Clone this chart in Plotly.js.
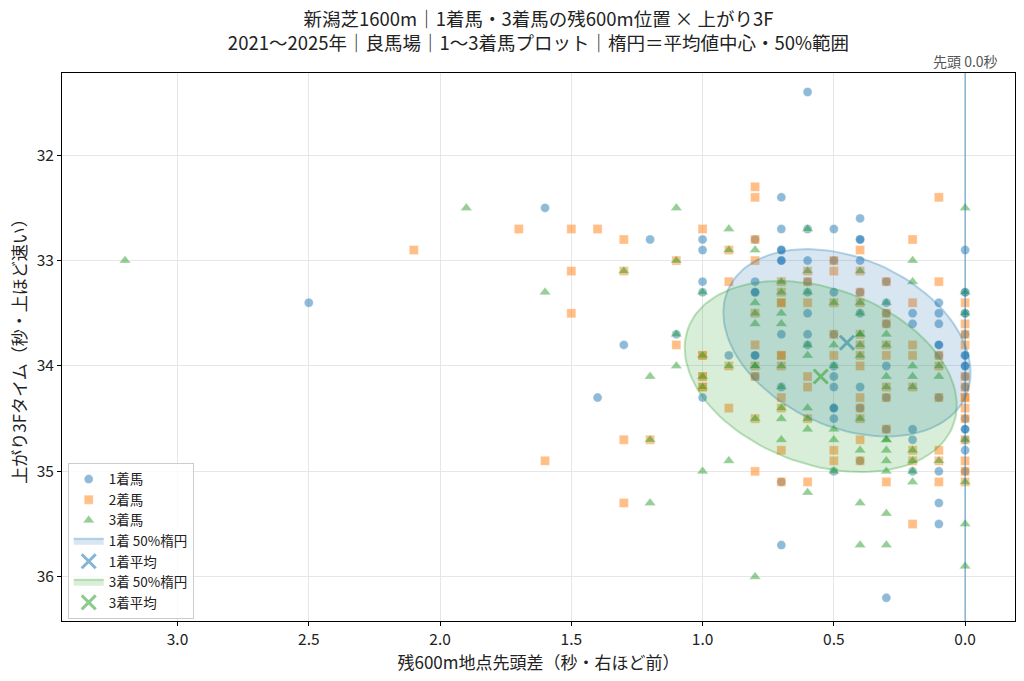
<!DOCTYPE html>
<html>
<head>
<meta charset="utf-8">
<script src="https://cdn.plot.ly/plotly-3.0.1.min.js"></script>
<style>
  html, body { margin: 0; padding: 0; background: #fff; }
  #chart { width: 1024px; height: 681px; }
</style>
</head>
<body>
<div id="chart"></div>
<script>
// 1着馬: 残600m先頭差（秒）と上がり3F（秒）
var lead1 = [0.6,0.7,0.4,0.7,0.6,0.5,1.6,1.2,1.0,0.8,0.4,0.4,1.0,0.7,0.7,0.0,0.7,0.7,0.6,0.5,
  0.4,1.0,0.8,0.6,0.3,1.0,0.8,0.8,0.6,0.5,0.4,0.0,0.0,2.5,0.3,0.1,0.6,0.4,0.3,0.2,
  0.1,0.0,0.0,0.3,0.2,0.1,1.1,0.7,0.6,0.5,0.0,1.3,0.6,0.1,0.1,0.9,0.8,0.8,0.1,0.0,
  0.0,0.5,0.3,0.0,0.0,0.8,0.5,0.0,0.7,0.5,0.4,0.0,1.4,1.0,0.3,0.1,0.5,0.5,0.4,0.5,
  0.0,0.2,0.0,0.0,0.3,0.2,0.0,0.0,0.4,0.5,0.2,0.1,0.0,0.7,0.1,0.1,0.7,0.3];
var f3_1 = [31.4,32.4,32.6,32.7,32.7,32.7,32.5,32.8,32.8,32.8,32.8,32.8,32.9,32.9,32.9,32.9,33.0,33.0,33.0,33.0,
  33.0,33.2,33.2,33.2,33.2,33.3,33.3,33.3,33.3,33.3,33.3,33.3,33.3,33.4,33.4,33.4,33.5,33.5,33.5,33.5,
  33.5,33.5,33.5,33.6,33.6,33.6,33.7,33.7,33.7,33.7,33.7,33.8,33.8,33.8,33.8,33.9,33.9,33.9,33.9,33.9,
  33.9,34.0,34.0,34.0,34.0,34.1,34.1,34.1,34.2,34.2,34.2,34.2,34.3,34.3,34.3,34.3,34.4,34.4,34.4,34.5,
  34.5,34.6,34.6,34.6,34.6,34.7,34.7,34.8,34.9,35.0,35.0,35.0,35.0,35.1,35.3,35.5,35.7,36.2];

// 2着馬
var lead2 = [0.8,0.8,0.1,1.7,1.5,1.4,1.0,1.3,0.8,0.2,2.1,0.9,0.4,1.1,0.8,0.5,1.5,1.3,0.6,0.5,
  0.4,0.9,0.7,0.6,0.3,0.1,0.7,0.4,0.7,0.7,0.6,0.5,0.4,0.2,0.0,1.5,0.8,0.3,0.3,0.0,
  0.5,0.4,0.0,1.1,0.8,0.4,0.3,0.2,0.0,1.0,1.0,0.7,0.7,0.5,0.4,0.3,0.2,0.1,0.9,0.8,
  0.7,0.4,0.1,1.0,1.0,0.8,0.6,0.0,1.0,1.0,0.6,0.3,0.2,0.0,0.7,0.4,0.3,0.1,0.0,0.0,
  0.9,0.7,0.4,0.0,0.8,0.6,0.4,0.0,0.3,1.3,1.2,0.4,0.0,0.7,0.5,0.2,0.1,1.6,0.5,0.4,
  0.2,0.1,0.0,0.8,0.0,0.7,0.6,0.3,0.1,0.0,1.3,0.2];
var f3_2 = [32.3,32.4,32.4,32.7,32.7,32.7,32.7,32.8,32.8,32.8,32.9,32.9,32.9,33.0,33.0,33.0,33.1,33.1,33.1,33.1,
  33.1,33.2,33.2,33.2,33.2,33.2,33.3,33.3,33.4,33.4,33.4,33.4,33.4,33.4,33.4,33.5,33.5,33.5,33.6,33.6,
  33.7,33.7,33.7,33.8,33.8,33.8,33.8,33.8,33.8,33.9,33.9,33.9,33.9,33.9,33.9,33.9,33.9,33.9,34.0,34.0,
  34.0,34.0,34.0,34.1,34.1,34.1,34.1,34.1,34.2,34.2,34.2,34.2,34.2,34.2,34.3,34.3,34.3,34.3,34.3,34.3,
  34.4,34.4,34.4,34.4,34.5,34.5,34.5,34.5,34.6,34.7,34.7,34.7,34.7,34.8,34.8,34.8,34.8,34.9,34.9,34.9,
  34.9,34.9,34.9,35.0,35.0,35.1,35.1,35.1,35.1,35.1,35.3,35.5];

// 3着馬
var lead3 = [1.9,1.1,0.0,0.9,0.6,0.9,0.8,3.2,1.1,0.2,1.3,0.6,0.4,0.7,0.2,1.6,1.0,0.7,0.6,0.0,
  0.8,0.5,0.4,0.3,0.8,0.7,0.4,0.0,0.8,0.7,1.1,0.4,0.4,0.3,0.6,0.5,0.4,0.3,1.0,0.6,
  0.4,1.1,0.9,0.8,0.8,0.7,0.5,0.2,0.1,1.2,1.0,0.3,0.2,0.1,1.0,0.7,0.3,0.2,0.7,0.6,
  0.8,0.7,0.6,0.4,0.6,0.5,1.2,0.7,0.5,0.3,0.3,0.0,0.4,0.3,0.2,0.9,0.3,0.2,0.1,1.0,
  0.5,0.3,0.2,0.2,0.0,0.6,1.2,0.4,0.3,0.0,0.4,0.3,0.8,0.0];
var f3_3 = [32.5,32.5,32.5,32.7,32.7,32.9,32.9,33.0,33.0,33.0,33.1,33.1,33.1,33.2,33.2,33.3,33.3,33.3,33.3,33.3,
  33.4,33.4,33.4,33.4,33.5,33.5,33.5,33.5,33.6,33.6,33.7,33.7,33.7,33.7,33.8,33.8,33.8,33.8,33.9,33.9,
  33.9,34.0,34.0,34.0,34.0,34.0,34.0,34.0,34.0,34.1,34.1,34.1,34.1,34.1,34.2,34.2,34.2,34.2,34.4,34.4,
  34.5,34.5,34.5,34.5,34.6,34.6,34.7,34.7,34.7,34.7,34.7,34.7,34.8,34.8,34.8,34.9,34.9,34.9,34.9,35.0,
  35.0,35.0,35.0,35.1,35.1,35.2,35.3,35.3,35.4,35.5,35.7,35.7,36.0,35.9];

// 平均値と標準偏差・相関（楕円用）
var mean1 = [0.45, 33.78];
var sd1 = [0.40, 0.755];
var rho1 = -0.32;
var mean3 = [0.55, 34.10];
var sd3 = [0.44, 0.77];
var rho3 = -0.30;

var xTicks = [3.0, 2.5, 2.0, 1.5, 1.0, 0.5, 0.0];
var yTicks = [32, 33, 34, 35, 36];

var FONT = '"Noto Sans CJK JP", "Noto Sans", sans-serif';

// 50%楕円（2次元正規分布）
function ellipse(m, sd, rho) {
  var k = Math.sqrt(-2 * Math.log(0.5));
  var xs = [], ys = [];
  for (var i = 0; i <= 120; i++) {
    var t = 2 * Math.PI * i / 120;
    xs.push(m[0] + k * sd[0] * Math.cos(t));
    ys.push(m[1] + k * sd[1] * (rho * Math.cos(t) + Math.sqrt(1 - rho * rho) * Math.sin(t)));
  }
  return {x: xs, y: ys};
}

function pts(x, y, name, color, symbol, size) {
  return {
    x: x, y: y, type: 'scatter', mode: 'markers', name: name,
    marker: {color: color, symbol: symbol, size: size, line: {color: 'rgba(255,255,255,0.6)', width: 0.5}}
  };
}

var e1 = ellipse(mean1, sd1, rho1);
var e3 = ellipse(mean3, sd3, rho3);

var traces = [
  pts(lead1, f3_1, '1着馬', 'rgba(31,119,180,0.5)', 'circle', 9),
  pts(lead2, f3_2, '2着馬', 'rgba(255,127,14,0.5)', 'square', 9),
  pts(lead3, f3_3, '3着馬', 'rgba(44,160,44,0.5)', 'triangle-up', 10),
  {
    x: e1.x, y: e1.y, type: 'scatter', mode: 'lines', fill: 'toself', name: '1着 50%楕円',
    fillcolor: 'rgba(31,119,180,0.18)', line: {color: 'rgba(31,119,180,0.3)', width: 2}
  },
  {
    x: [mean1[0]], y: [mean1[1]], type: 'scatter', mode: 'markers', name: '1着平均',
    marker: {symbol: 'x-thin', size: 14, line: {color: 'rgba(31,119,180,0.55)', width: 3}}
  },
  {
    x: e3.x, y: e3.y, type: 'scatter', mode: 'lines', fill: 'toself', name: '3着 50%楕円',
    fillcolor: 'rgba(44,160,44,0.18)', line: {color: 'rgba(44,160,44,0.3)', width: 2}
  },
  {
    x: [mean3[0]], y: [mean3[1]], type: 'scatter', mode: 'markers', name: '3着平均',
    marker: {symbol: 'x-thin', size: 14, line: {color: 'rgba(44,160,44,0.55)', width: 3}}
  }
];

var axisBase = {
  showline: true, mirror: true, linecolor: '#000', linewidth: 1,
  ticks: 'outside', ticklen: 4, tickcolor: '#000',
  showgrid: true, gridcolor: '#e6e6e6', gridwidth: 1,
  zeroline: false, tickfont: {size: 15.5, color: '#222'}
};

var layout = {
  width: 1024, height: 681,
  margin: {l: 62, r: 9, t: 73, b: 60},
  paper_bgcolor: '#fff', plot_bgcolor: '#fff',
  font: {family: FONT, color: '#222'},
  title: {
    text: '新潟芝1600m｜1着馬・3着馬の残600m位置 × 上がり3F<br>2021〜2025年｜良馬場｜1〜3着馬プロット｜楕円＝平均値中心・50%範囲',
    font: {size: 18.5, color: '#222'},
    x: 0.5, xref: 'paper', y: 0.962, yref: 'container', yanchor: 'top'
  },
  xaxis: Object.assign({}, axisBase, {
    range: [3.44, -0.19], tickvals: xTicks, tickformat: '.1f',
    title: {text: '残600m地点先頭差（秒・右ほど前）', font: {size: 17}, standoff: 4}
  }),
  yaxis: Object.assign({}, axisBase, {
    range: [36.42, 31.22], tickvals: yTicks,
    title: {text: '上がり3Fタイム（秒・上ほど速い）', font: {size: 17}, standoff: 5}
  }),
  shapes: [{
    type: 'line', xref: 'x', yref: 'paper', x0: 0, x1: 0, y0: 0, y1: 1,
    line: {color: 'rgba(31,119,180,0.5)', width: 1.5}
  }],
  annotations: [{
    text: '先頭 0.0秒', x: 0, xref: 'x', y: 1, yref: 'paper',
    xanchor: 'center', yanchor: 'bottom', showarrow: false,
    font: {size: 14, color: '#555'}
  }],
  legend: {
    x: 0.006, y: 0.004, xanchor: 'left', yanchor: 'bottom',
    bgcolor: 'rgba(255,255,255,0.8)', bordercolor: '#ccc', borderwidth: 1,
    font: {size: 13.5, color: '#222'}, tracegroupgap: 0
  },
  showlegend: true
};

Plotly.newPlot('chart', traces, layout, {staticPlot: true});
</script>
</body>
</html>
